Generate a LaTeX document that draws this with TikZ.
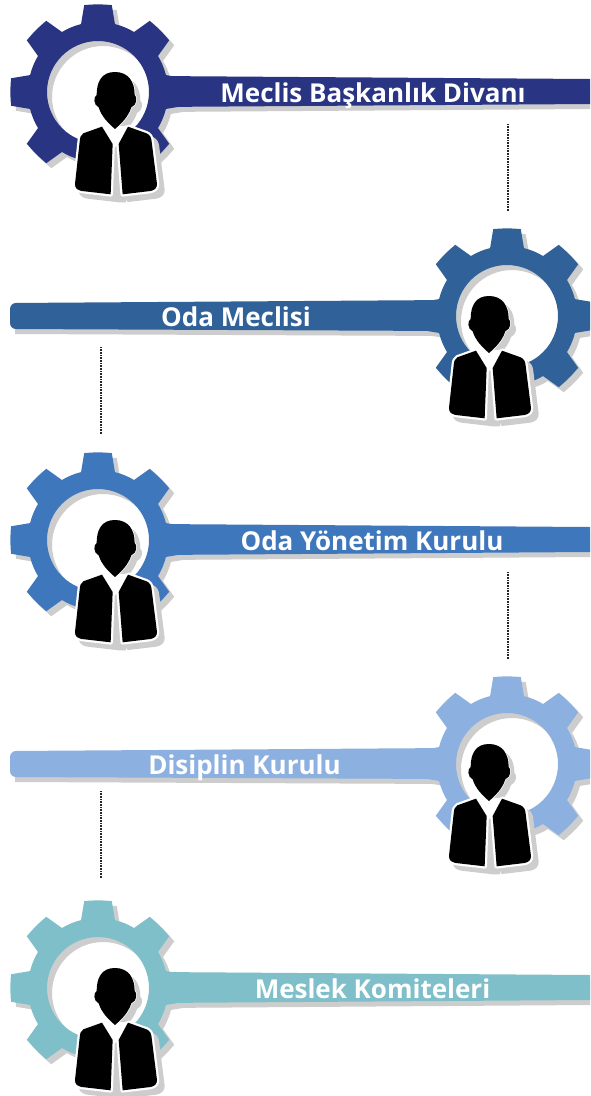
\documentclass[tikz,border=0pt]{standalone}
\usepackage{fontspec}
\setmainfont{Open Sans}
\definecolor{cA}{HTML}{293583}
\definecolor{cB}{HTML}{306299}
\definecolor{cC}{HTML}{3F77BC}
\definecolor{cD}{HTML}{8CB1E0}
\definecolor{cE}{HTML}{7FBFC9}
\definecolor{softgray}{HTML}{CDCDCD}
\tikzset{
  titlelabel/.style={text=white,font=\fontsize{26}{26}\selectfont\bfseries,inner sep=0pt,anchor=base},
  linkline/.style={draw=black!85,line width=1.1pt,dash pattern=on 1pt off 0.6pt},
}
% gear outline around the current origin
\newcommand{\gearpath}{
  (-14:70)
  \foreach \a in {0,45,...,315}{
    -- (\a-9:88) to[bend left=5] (\a+9:88) -- (\a+14:70)
    arc[start angle=\a+14,end angle=\a+31,radius=70]
  } -- cycle
  (0,0) circle[radius=51]
}
\newcommand{\gearat}[3]{%
  \begin{scope}[shift={(#1,#2)}]
    \fill[#3,even odd rule] \gearpath;
  \end{scope}}
\newcommand{\gearshadow}[2]{%
  \begin{scope}[shift={(#1+5,#2+5)}]
    \fill[softgray,even odd rule] \gearpath;
  \end{scope}}
% person, drawn in the 3x coordinates of the first figure
\newcommand{\headpath}{
  (345,216) .. controls (305,216) and (290,245) .. (290,285)
  .. controls (280,290) and (280,315) .. (296,322)
  .. controls (305,350) and (325,370) .. (345,387)
  .. controls (365,370) and (385,350) .. (394,322)
  .. controls (412,315) and (412,290) .. (404,285)
  .. controls (404,245) and (385,216) .. (345,216) -- cycle
}
\newcommand{\leftvest}{
  (306,380) -- (250,400) .. controls (242,405) and (240,412) .. (239,425)
  -- (225,552) .. controls (225,565) and (232,570) .. (245,573)
  -- (332,583) -- (338,432) -- cycle
}
\newcommand{\rightvest}{
  (384,380) -- (440,400) .. controls (450,405) and (454,412) .. (455,425)
  -- (471,552) .. controls (471,565) and (464,570) .. (452,573)
  -- (368,583) -- (356,432) -- cycle
}
\newcommand{\personat}[2]{%
  \begin{scope}[shift={(#1,#2)}]
  \begin{scope}[x=0.3333pt,y=-0.3333pt]
    \begin{scope}[shift={(17,17)}]
      \fill[softgray] \headpath;
      \fill[softgray,draw=softgray,line width=4pt,line join=round] \leftvest;
      \fill[softgray,draw=softgray,line width=4pt,line join=round] \rightvest;
      \fill[softgray] (300,380) -- (390,380) -- (360,590) -- (335,590) -- cycle;
    \end{scope}
    \fill[white,draw=white,line width=1.5pt] \headpath;
    \fill[white,draw=white,line width=4.5pt,line join=round] \leftvest;
    \fill[white,draw=white,line width=4.5pt,line join=round] \rightvest;
    \fill[white] (304,378) -- (386,378) -- (356,440) -- (338,440) -- cycle;
    \fill[black] \headpath;
    \fill[black] \leftvest;
    \fill[black] \rightvest;
  \end{scope}
  \end{scope}}
\begin{document}
\begin{tikzpicture}[x=1pt,y=-1pt]
\useasboundingbox (0,0) rectangle (590,1096);
\clip (0,0) rectangle (590,1096);
\fill[white] (0,0) rectangle (590,1096);

% shadows
\gearshadow{98}{92}
\gearshadow{507}{316}
\gearshadow{98}{540}
\gearshadow{507}{764}
\gearshadow{98}{988}
\fill[softgray] (158,81) -- (590,84) -- (590,109) -- (158,112) -- cycle;
\fill[softgray] (15,308) -- (452,305) -- (452,336) -- (15,334) -- cycle;
\fill[softgray] (158,529) -- (590,532) -- (590,557) -- (158,560) -- cycle;
\fill[softgray] (15,756) -- (452,753) -- (452,784) -- (15,782) -- cycle;
\fill[softgray] (158,977) -- (590,980) -- (590,1005) -- (158,1008) -- cycle;

% gears and bars
\gearat{98}{92}{cA}
\fill[cA] (155,76) -- (590,79) -- (590,104) -- (155,107) -- cycle;
\gearat{507}{316}{cB}
\fill[cB,rounded corners=6pt] (10,303) -- (450,300) -- (450,331) -- (10,329) -- cycle;
\gearat{98}{540}{cC}
\fill[cC] (155,524) -- (590,527) -- (590,552) -- (155,555) -- cycle;
\gearat{507}{764}{cD}
\fill[cD,rounded corners=6pt] (10,751) -- (450,748) -- (450,779) -- (10,777) -- cycle;
\gearat{98}{988}{cE}
\fill[cE] (155,972) -- (590,975) -- (590,1000) -- (155,1003) -- cycle;

% people
\personat{0}{0}
\personat{374}{224}
\personat{0}{448}
\personat{374}{672}
\personat{0}{896}

% labels
\node[titlelabel] (t1) at (373,102) {Meclis Başkanlık Divanı};
\node[titlelabel] (t2) at (236,326) {Oda Meclisi};
\node[titlelabel] (t3) at (372,550) {Oda Yönetim Kurulu};
\node[titlelabel] (t4) at (244.5,774) {Disiplin Kurulu};
\node[titlelabel] (t5) at (372.5,998) {Meslek Komiteleri};

% dotted links
\coordinate (a1) at (508,124); \coordinate (b1) at (508,211);
\coordinate (a2) at (101,347); \coordinate (b2) at (101,434);
\coordinate (a3) at (508,572); \coordinate (b3) at (508,659);
\coordinate (a4) at (101,791); \coordinate (b4) at (101,878);
\draw[linkline] (a1) -- (b1);
\draw[linkline] (a2) -- (b2);
\draw[linkline] (a3) -- (b3);
\draw[linkline] (a4) -- (b4);
\end{tikzpicture}
\end{document}
